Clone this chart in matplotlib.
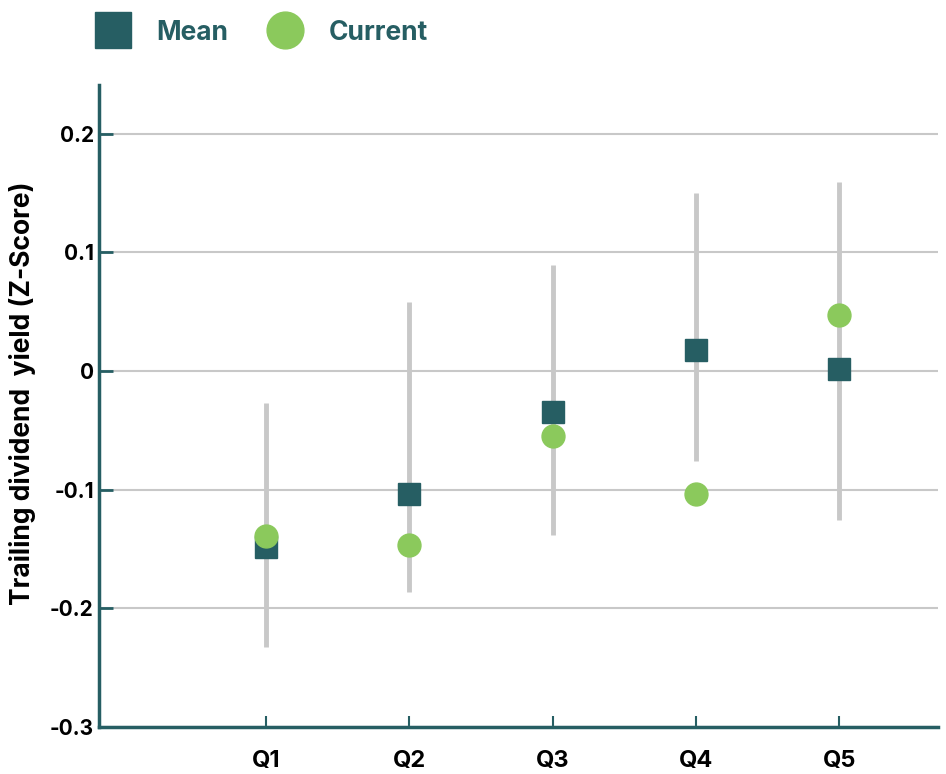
import matplotlib.pyplot as plt
from matplotlib.lines import Line2D

# values
quintiles = ["Q1", "Q2", "Q3", "Q4", "Q5"]
mean_vals = [-0.148, -0.104, -0.035, 0.018, 0.002]
current_vals = [-0.139, -0.147, -0.055, -0.104, 0.047]
range_low = [-0.233, -0.186, -0.138, -0.076, -0.126]
range_high = [-0.027, 0.058, 0.089, 0.150, 0.159]
y_ticks = [-0.3, -0.2, -0.1, 0, 0.1, 0.2]
y_ticklabels = ["-0.3", "-0.2", "-0.1", "0", "0.1", "0.2"]

teal = "#265E63"
green = "#8BC95C"
grey = "#C8C8C8"

plt.rcParams["font.family"] = ["Inter", "DejaVu Sans"]

fig = plt.figure(figsize=(9.46, 7.74), dpi=100)
ax = fig.add_axes([0.105, 0.061, 0.887, 0.829])

x = list(range(len(quintiles)))

ax.vlines(x, range_low, range_high, color=grey, linewidth=3.5, zorder=2)
ax.plot(x, mean_vals, linestyle="none", marker="s", markersize=16.5,
        color=teal, zorder=3)
ax.plot(x, current_vals, linestyle="none", marker="o", markersize=16.5,
        color=green, zorder=4)

ax.set_xlim(-1.162, 4.69)
ax.set_ylim(-0.3, 0.241)
ax.set_yticks(y_ticks)
ax.set_yticklabels(y_ticklabels, fontsize=15, fontweight="bold")
ax.set_xticks(x)
ax.set_xticklabels(quintiles, fontsize=17, fontweight="bold")

ax.grid(axis="y", color=grey, linewidth=1.5, zorder=1)
ax.set_axisbelow(True)
for side in ["top", "right"]:
    ax.spines[side].set_visible(False)
for side in ["left", "bottom"]:
    ax.spines[side].set_color(teal)
    ax.spines[side].set_linewidth(2.5)
ax.tick_params(axis="y", direction="in", length=10, width=2, color=teal, pad=4)
ax.tick_params(axis="x", direction="in", length=8, width=1.5, color=teal, pad=17)

ax.set_ylabel("Trailing dividend  yield (Z-Score)", fontsize=19,
              fontweight="bold")
ax.yaxis.set_label_coords(-0.076, 0.52)

handles = [
    Line2D([], [], linestyle="none", marker="s", markersize=26.5, color=teal),
    Line2D([], [], linestyle="none", marker="o", markersize=26.5, color=green),
]
leg = fig.legend(handles, ["Mean", "Current"], loc="center left",
                 bbox_to_anchor=(0.066, 0.958), ncol=2, frameon=False,
                 handletextpad=0.65, columnspacing=1.17,
                 prop={"weight": "bold", "size": 19})
for t in leg.get_texts():
    t.set_color(teal)

fig.savefig("out.png", dpi=100)
